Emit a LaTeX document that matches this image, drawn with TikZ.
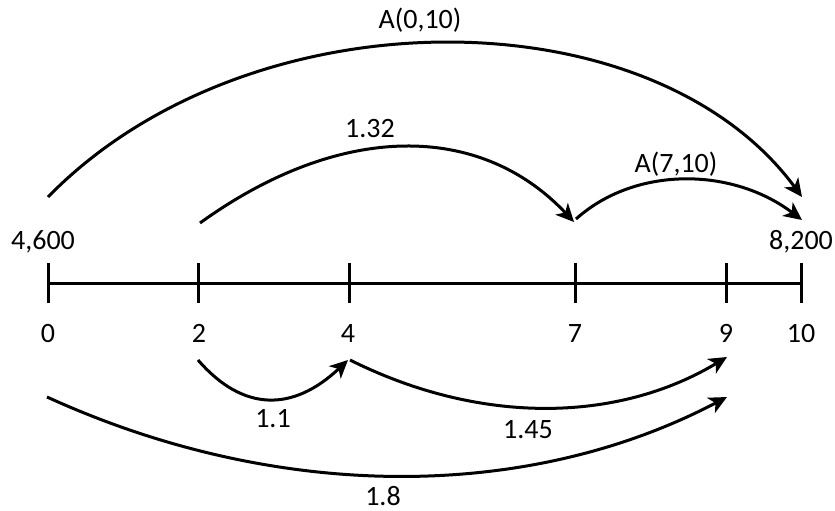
\documentclass[tikz,border=0pt]{standalone}
\usepackage{fontspec}
\setmainfont{Carlito}
\usetikzlibrary{arrows.meta}
\begin{document}
\begin{tikzpicture}[x=1pt,y=-1pt,
  lbl/.style={font=\fontsize{28}{30}\selectfont, inner sep=0pt, anchor=base},
  arc/.style={line width=3pt, -{Stealth[length=18pt,width=17pt,inset=5pt]}},
  axisline/.style={line width=3pt},
  tick/.style={line width=3pt}]
\useasboundingbox (0,0) rectangle (835,511);
% axis
\coordinate (t0) at (48,283);
\coordinate (t2) at (198,283);
\coordinate (t4) at (349,283);
\coordinate (t7) at (575,283);
\coordinate (t9) at (726,283);
\coordinate (t10) at (801,283);
\draw[axisline] (t0) -- (t10);
\foreach \t in {t0,t2,t4,t7,t9,t10}
  \draw[tick] ([yshift=-20pt]\t) -- ([yshift=20pt]\t);
% tick labels
\node[lbl] (l0) at (48,342) {0};
\node[lbl] (l2) at (199,342) {2};
\node[lbl] (l4) at (348,342) {4};
\node[lbl] (l7) at (575,342) {7};
\node[lbl] (l9) at (726,342) {9};
\node[lbl] (l10) at (801,342) {10};
\node[lbl] (v0) at (43,249) {4,600};
\node[lbl] (v10) at (801,249) {8,200};
% arc end points
\coordinate (a0s) at (48,197);
\coordinate (a0e) at (802,197);
\coordinate (b2s) at (200,223);
\coordinate (b7e) at (574,222);
\coordinate (c7s) at (576,219);
\coordinate (c10e) at (802,220);
\coordinate (d2s) at (198,360);
\coordinate (d4e) at (348,360);
\coordinate (e4s) at (350,360);
\coordinate (e9e) at (727,357);
\coordinate (f0s) at (47,397);
\coordinate (f9e) at (727,397);
% arcs above
\draw[arc] (a0s) .. controls (248,-8) and (651,-8) .. (a0e);
\draw[arc] (b2s) .. controls (340,122) and (480,122) .. (b7e);
\draw[arc] (c7s) .. controls (635,166) and (732,167) .. (c10e);
% arcs below
\draw[arc] (d2s) .. controls (243,412) and (293,412) .. (d4e);
\draw[arc] (e4s) .. controls (480,425) and (617,423) .. (e9e);
\draw[arc] (f0s) .. controls (277,502) and (527,502) .. (f9e);
% arc labels
\node[lbl] (n010) at (420,29) {A(0,10)};
\node[lbl] (n132) at (370,137) {1.32};
\node[lbl] (n710) at (676,172) {A(7,10)};
\node[lbl] (n11) at (273,427) {1.1};
\node[lbl] (n145) at (528,438) {1.45};
\node[lbl] (n18) at (383,505) {1.8};
\end{tikzpicture}
\end{document}
